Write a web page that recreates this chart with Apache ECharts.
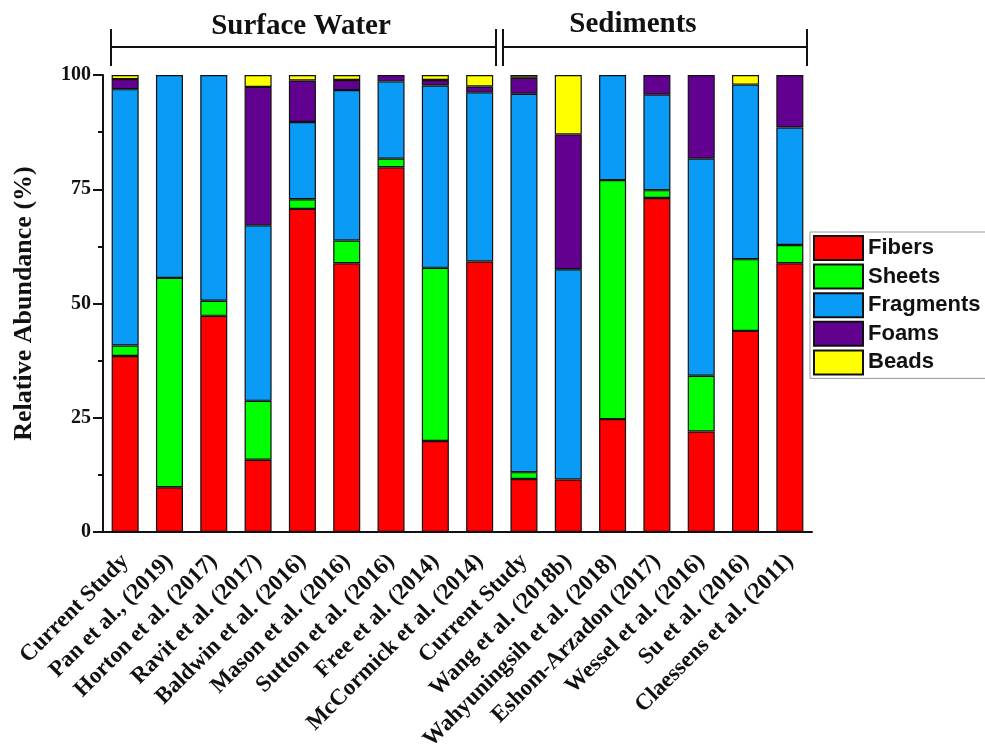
<!DOCTYPE html>
<html>
<head>
<meta charset="utf-8">
<script src="https://cdn.jsdelivr.net/npm/echarts@6/dist/echarts.min.js"></script>
<style>
  html, body { margin: 0; padding: 0; background: #fff; }
  #chart { width: 985px; height: 754px; }
</style>
</head>
<body>
<div id="chart"></div>
<script>
// studies on the x axis (surface water first, then sediments)
const categories = [
  'Current Study', 'Pan et al., (2019)', 'Horton et al. (2017)', 'Ravit et al. (2017)',
  'Baldwin et al. (2016)', 'Mason et al. (2016)', 'Sutton et al. (2016)', 'Free et al. (2014)',
  'McCormick et al. (2014)', 'Current Study', 'Wang et al. (2018b)', 'Wahyuningsih et al. (2018)',
  'Eshom-Arzadon (2017)', 'Wessel et al. (2016)', 'Su et al. (2016)', 'Claessens et al. (2011)'
];

// relative abundance (%) per shape
const fibers    = [38.5, 9.8, 47.3, 15.8, 70.7, 58.8, 79.8, 19.9, 59.2, 11.6, 11.5, 24.7, 73.1, 22.0, 44.0, 58.8];
const sheets    = [2.3, 45.8, 3.3, 12.9, 2.1, 5.0, 1.9, 37.9, 0, 1.5, 0, 52.3, 1.7, 12.2, 15.7, 4.0];
const fragments = [56.1, 44.4, 49.4, 38.4, 16.9, 32.9, 16.9, 39.9, 37.0, 82.8, 46.0, 23.0, 20.9, 47.5, 38.2, 25.7];
const foams     = [2.2, 0, 0, 30.3, 9.1, 2.2, 1.4, 1.2, 1.3, 3.5, 29.5, 0, 4.3, 18.3, 0, 11.5];
const beads     = [0.9, 0, 0, 2.6, 1.2, 1.1, 0, 1.1, 2.5, 0.6, 13.0, 0, 0, 0, 2.1, 0];

const yTicks = [0, 25, 50, 75, 100];

const serif = '"Liberation Serif", "Times New Roman", serif';
const sans = '"Liberation Sans", Arial, sans-serif';

const chart = echarts.init(document.getElementById('chart'));

const makeSeries = (name, values, color) => ({
  name,
  type: 'bar',
  stack: 'total',
  barCategoryGap: '39%',
  data: values.map(v => (v > 0 ? v : null)),
  itemStyle: { color, borderColor: '#111', borderWidth: 1.2 }
});

const option = {
  animation: false,
  // fixed plot box; labels may run to the page edge like the original
  grid: { left: 103, right: 173, top: 75, bottom: 222, outerBoundsMode: 'none' },
  legend: {
    orient: 'vertical',
    left: 810,
    top: 232,
    itemWidth: 49,
    itemHeight: 24,
    itemGap: 2.6,
    padding: [3, 60, 3, 3],
    borderColor: '#999',
    borderWidth: 1,
    icon: 'rect',
    textStyle: { fontFamily: sans, fontWeight: 'bold', fontSize: 22, lineHeight: 24, color: '#111' }
  },
  xAxis: {
    type: 'category',
    data: categories,
    axisLine: { lineStyle: { color: '#111', width: 2 } },
    axisTick: { alignWithLabel: true, length: 8, lineStyle: { color: '#111', width: 2 } },
    axisLabel: {
      interval: 0,
      rotate: 45,
      margin: 26,
      color: '#111',
      fontFamily: serif,
      fontWeight: 'bold',
      fontSize: 23
    }
  },
  yAxis: {
    type: 'value',
    min: yTicks[0],
    max: yTicks[yTicks.length - 1],
    interval: 25,
    name: 'Relative Abundance (%)',
    nameLocation: 'middle',
    nameGap: 66,
    nameTextStyle: { fontFamily: serif, fontWeight: 'bold', fontSize: 26, color: '#111' },
    axisLine: { show: true, lineStyle: { color: '#111', width: 2 } },
    axisTick: { show: true, length: 10, lineStyle: { color: '#111', width: 2 } },
    minorTick: { show: true, splitNumber: 2, length: 5, lineStyle: { color: '#111', width: 2 } },
    splitLine: { show: false },
    axisLabel: { margin: 12, color: '#111', fontFamily: serif, fontWeight: 'bold', fontSize: 20 }
  },
  series: [
    makeSeries('Fibers', fibers, '#ff0000'),
    makeSeries('Sheets', sheets, '#00ff00'),
    makeSeries('Fragments', fragments, '#0a9bf7'),
    makeSeries('Foams', foams, '#620090'),
    makeSeries('Beads', beads, '#ffff00')
  ],
  // group brackets above the plot
  graphic: [
    { type: 'line', shape: { x1: 111, y1: 47, x2: 496, y2: 47 }, style: { stroke: '#111', lineWidth: 2 } },
    { type: 'line', shape: { x1: 111, y1: 29, x2: 111, y2: 66 }, style: { stroke: '#111', lineWidth: 2 } },
    { type: 'line', shape: { x1: 496, y1: 29, x2: 496, y2: 66 }, style: { stroke: '#111', lineWidth: 2 } },
    { type: 'line', shape: { x1: 503, y1: 29, x2: 503, y2: 66 }, style: { stroke: '#111', lineWidth: 2 } },
    { type: 'line', shape: { x1: 503, y1: 47, x2: 807, y2: 47 }, style: { stroke: '#111', lineWidth: 2 } },
    { type: 'line', shape: { x1: 807, y1: 29, x2: 807, y2: 66 }, style: { stroke: '#111', lineWidth: 2 } },
    {
      type: 'text', x: 301, y: 27,
      style: { text: 'Surface Water', fill: '#111', font: 'bold 29px ' + serif, align: 'center', verticalAlign: 'middle' }
    },
    {
      type: 'text', x: 633, y: 25,
      style: { text: 'Sediments', fill: '#111', font: 'bold 29px ' + serif, align: 'center', verticalAlign: 'middle' }
    }
  ]
};

chart.setOption(option);
</script>
</body>
</html>
